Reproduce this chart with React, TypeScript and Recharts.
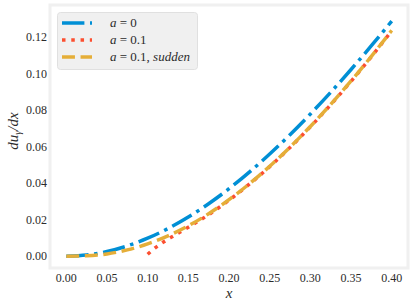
import { LineChart, Line, XAxis, YAxis, ReferenceArea } from 'recharts'

const xGrid = [0, 0.025, 0.05, 0.075, 0.1, 0.125, 0.15, 0.175, 0.2, 0.225, 0.25, 0.275, 0.3, 0.325, 0.35, 0.375, 0.4]
const a0Vals = [0, 0.0006, 0.0025, 0.0056, 0.0098, 0.0151, 0.0214, 0.0287, 0.0369, 0.046, 0.0559, 0.0665, 0.0778, 0.0897, 0.1022, 0.1152, 0.1287]
const suddenVals = [0, 0.0002, 0.0012, 0.0034, 0.0067, 0.0111, 0.0166, 0.0232, 0.0309, 0.0396, 0.0492, 0.0597, 0.071, 0.0831, 0.0959, 0.1094, 0.1236]
const xRed = [0.1, 0.11, 0.12, 0.13, 0.14, 0.15, 0.16, 0.175, 0.2, 0.225, 0.25, 0.275, 0.3, 0.325, 0.35, 0.375, 0.4]
const a01Vals = [0.001, 0.0048, 0.0079, 0.0106, 0.0132, 0.0158, 0.0185, 0.0227, 0.0306, 0.0394, 0.049, 0.0595, 0.0708, 0.0829, 0.0957, 0.1092, 0.1234]

const xTicks = [0, 0.05, 0.1, 0.15, 0.2, 0.25, 0.3, 0.35, 0.4]
const yTicks = [0, 0.02, 0.04, 0.06, 0.08, 0.1, 0.12]

const X_DOMAIN: [number, number] = [-0.02, 0.42]
const Y_DOMAIN: [number, number] = [-0.0065, 0.1375]

const LW = 3.5
const series = [
  { key: 'a0', color: '#008fd5', dash: `${6.4 * LW} ${1.6 * LW} ${LW} ${1.6 * LW}`, data: xGrid.map((x, i) => ({ x, y: a0Vals[i] })) },
  { key: 'a01', color: '#fc4f30', dash: `${LW} ${1.65 * LW}`, data: xRed.map((x, i) => ({ x, y: a01Vals[i] })) },
  { key: 'sudden', color: '#e5ae38', dash: `${3.7 * LW} ${1.6 * LW}`, data: xGrid.map((x, i) => ({ x, y: suddenVals[i] })) },
]

const font = 'Liberation Serif, DejaVu Serif, serif'
const textColor = '#2b2b2b'

function LegendLabel({ k }: { k: string }) {
  if (k === 'a0') return <><tspan fontStyle="italic">a</tspan> = 0</>
  if (k === 'a01') return <><tspan fontStyle="italic">a</tspan> = 0.1</>
  return <><tspan fontStyle="italic">a</tspan> = 0.1, <tspan fontStyle="italic">sudden</tspan></>
}

function LegendBox() {
  return (
    <svg width={141} height={58} style={{ position: 'absolute', left: 57, top: 12 }}>
      <rect x={0.5} y={0.5} width={140} height={57} rx={3} fill="#f0f0f0" stroke="#e0e0e0" />
      {series.map((s, i) => (
        <g key={s.key}>
          <line x1={5} x2={35} y1={11 + i * 17} y2={11 + i * 17} stroke={s.color} strokeWidth={LW} strokeDasharray={s.dash} />
          <text x={53} y={15 + i * 17} style={{ fontFamily: font, fontSize: 13 }} fill={textColor}>
            <LegendLabel k={s.key} />
          </text>
        </g>
      ))}
    </svg>
  )
}

function YLabel() {
  return (
    <text transform="translate(18,131) rotate(-90)" textAnchor="middle" style={{ fontFamily: font, fontSize: 15 }} fill={textColor}>
      <tspan fontStyle="italic">du</tspan>
      <tspan fontStyle="italic" fontSize={10} dy={3}>γ</tspan>
      <tspan fontStyle="italic" dy={-3}>/dx</tspan>
    </text>
  )
}

export default function App() {
  return (
    <div style={{ position: 'absolute', left: 0, top: 0, width: 416, height: 306, background: '#fff' }}>
      <LineChart width={416} height={306} margin={{ top: 5, right: 8, left: 0, bottom: 0 }}>
        <ReferenceArea x1={X_DOMAIN[0]} x2={X_DOMAIN[1]} y1={Y_DOMAIN[0]} y2={Y_DOMAIN[1]} fill="none" stroke="#f0f0f0" strokeWidth={3} ifOverflow="visible" />
        <XAxis
          type="number"
          dataKey="x"
          domain={X_DOMAIN}
          ticks={xTicks}
          tickFormatter={(v) => v.toFixed(2)}
          axisLine={false}
          tickLine={false}
          tickSize={0}
          tickMargin={5}
          height={38}
          tick={{ style: { fontFamily: font, fontSize: 12 }, fill: textColor }}
          allowDataOverflow
          label={{ value: 'x', position: 'insideBottom', offset: 8, style: { fontFamily: font, fontSize: 15, fontStyle: 'italic', fill: textColor } }}
        />
        <YAxis
          type="number"
          domain={Y_DOMAIN}
          ticks={yTicks}
          tickFormatter={(v) => v.toFixed(2)}
          axisLine={false}
          tickLine={false}
          tickSize={0}
          tickMargin={3}
          width={50}
          tick={{ style: { fontFamily: font, fontSize: 12 }, fill: textColor }}
          allowDataOverflow
          label={<YLabel />}
        />
        {series.map((s) => (
          <Line
            key={s.key}
            data={s.data}
            dataKey="y"
            type="monotone"
            stroke={s.color}
            strokeWidth={LW}
            strokeDasharray={s.dash}
            dot={false}
            activeDot={false}
            isAnimationActive={false}
          />
        ))}
      </LineChart>
      <LegendBox />
    </div>
  )
}
